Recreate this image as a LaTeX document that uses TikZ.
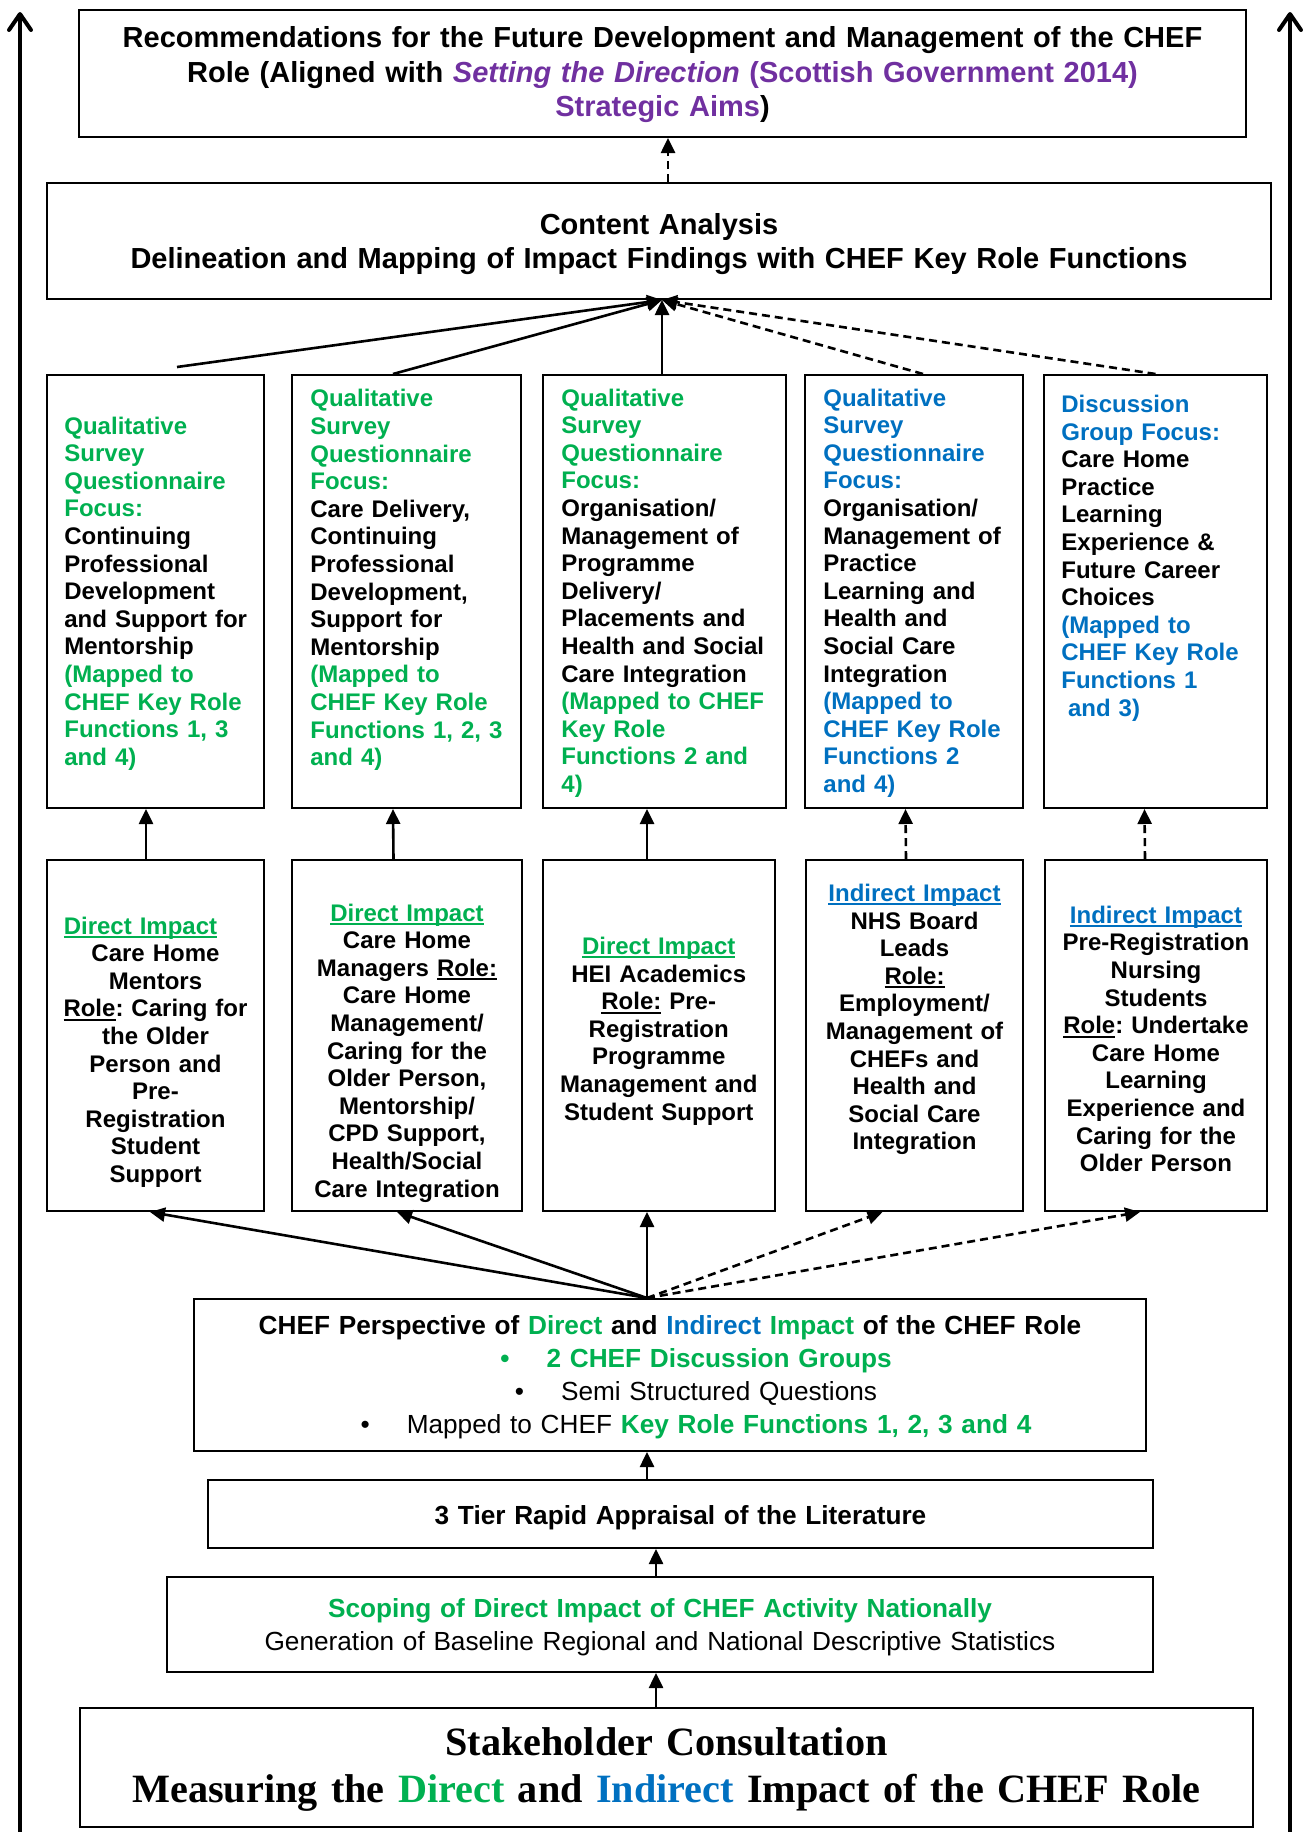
\documentclass[tikz,border=0pt]{standalone}
\usepackage{fontspec}
\setmainfont{Liberation Sans}
\newfontfamily\stakefont{Liberation Serif}
\usetikzlibrary{arrows.meta,fit}
\definecolor{chefgreen}{HTML}{00B050}
\definecolor{chefblue}{HTML}{0070C0}
\definecolor{chefpurple}{HTML}{7030A0}
\newcommand{\ulin}[1]{\leavevmode\setbox0\hbox{#1}\rlap{\rule[-2pt]{\wd0}{1pt}}\box0\relax}
\frenchspacing
\tikzset{
  box/.style={draw,line width=1pt,inner sep=0pt},
  ttext/.style={inner sep=0pt,align=center,text width=620pt,font=\bfseries\fontsize{14.5}{17.25}\selectfont},
  qtext/.style={anchor=west,inner sep=0pt,align=left,text width=120pt,font=\bfseries\fontsize{12}{13.8}\selectfont},
  ltext/.style={inner sep=0pt,align=center,text width=140pt,font=\bfseries\fontsize{12}{13.8}\selectfont},
  mtext/.style={inner sep=0pt,align=center,text width=600pt,font=\fontsize{13.1}{16.5}\selectfont},
  ktext/.style={inner sep=0pt,align=center,text width=620pt,font=\stakefont\bfseries\fontsize{20.1}{23.5}\selectfont},
  arr/.style={line width=1.3pt,-{Triangle[length=7.5pt,width=7pt]}},
  darr/.style={arr,dash pattern=on 4pt off 2.5pt},
  side/.style={line width=2pt,-{Straight Barb[length=8pt,width=11pt,round]}}
}
\begin{document}
\begin{tikzpicture}[x=0.5pt,y=-0.5pt]
\useasboundingbox (0,0) rectangle (1303,1832);

\node[box,fit={(79,10) (1246,137)}] (rec) {};
\node[box,fit={(47,183) (1271,299)}] (ca) {};
\node[box,fit={(47,375) (264,808)}] (q1) {};
\node[box,fit={(292,375) (521,808)}] (q2) {};
\node[box,fit={(543,375) (786,808)}] (q3) {};
\node[box,fit={(805,375) (1023,808)}] (q4) {};
\node[box,fit={(1044,375) (1267,808)}] (q5) {};
\node[box,fit={(47,860) (264,1211)}] (l1) {};
\node[box,fit={(292,860) (522,1211)}] (l2) {};
\node[box,fit={(543,860) (775,1211)}] (l3) {};
\node[box,fit={(806,860) (1023,1211)}] (l4) {};
\node[box,fit={(1045,860) (1267,1211)}] (l5) {};
\node[box,fit={(194,1299) (1146,1451)}] (p) {};
\node[box,fit={(208,1480) (1153,1548)}] (t) {};
\node[box,fit={(167,1577) (1153,1672)}] (s) {};
\node[box,fit={(80,1708) (1253,1827)}] (k) {};

\node[ttext] (rect) at (662.5,75) {Recommendations for the Future Development and Management of the CHEF\\Role (Aligned with \color{chefpurple}\textit{Setting the Direction} (Scottish Government 2014)\\Strategic Aims\color{black})};
\node[ttext] (cat) at (659,244) {Content Analysis\\Delineation and Mapping of Impact Findings with CHEF Key Role Functions};

\node[qtext] (q1t) at (64,593.5) {\color{chefgreen}Qualitative\\Survey\\Questionnaire\\Focus:\\\color{black}Continuing\\Professional\\Development\\and Support for\\Mentorship\\\color{chefgreen}(Mapped to\\CHEF Key Role\\Functions 1, 3\\and 4)};
\node[qtext] (q2t) at (310,580) {\color{chefgreen}Qualitative\\Survey\\Questionnaire\\Focus:\\\color{black}Care Delivery,\\Continuing\\Professional\\Development,\\Support for\\Mentorship\\\color{chefgreen}(Mapped to\\CHEF Key Role\\Functions 1, 2, 3\\and 4)};
\node[qtext] (q3t) at (561,593) {\color{chefgreen}Qualitative\\Survey\\Questionnaire\\Focus:\\\color{black}Organisation/\\Management of\\Programme\\Delivery/\\Placements and\\Health and Social\\Care Integration\\\color{chefgreen}(Mapped to CHEF\\Key Role\\Functions 2 and\\4)};
\node[qtext] (q4t) at (823,593) {\color{chefblue}Qualitative\\Survey\\Questionnaire\\Focus:\\\color{black}Organisation/\\Management of\\Practice\\Learning and\\Health and\\Social Care\\Integration\\\color{chefblue}(Mapped to\\CHEF Key Role\\Functions 2\\and 4)};
\node[qtext] (q5t) at (1061,558) {\color{chefblue}Discussion\\Group Focus:\\\color{black}Care Home\\Practice\\Learning\\Experience \&\\Future Career\\Choices\\\color{chefblue}(Mapped to\\CHEF Key Role\\Functions 1\\\hspace*{3.3pt}and 3)};

\node[ltext] (l1t) at (155.5,1052) {{\color{chefgreen}\ulin{Direct Impact}}\mbox{\hspace{15pt}}\\Care Home\\Mentors\\\ulin{Role}: Caring for\\the Older\\Person and\\Pre-\\Registration\\Student\\Support};
\node[ltext] (l2t) at (407,1053) {{\color{chefgreen}\ulin{Direct Impact}}\\Care Home\\Managers \ulin{Role:}\\Care Home\\Management/\\Caring for the\\Older Person,\\Mentorship/\\CPD Support,\\Health/Social\\Care Integration};
\node[ltext] (l3t) at (658.75,1031) {{\color{chefgreen}\ulin{Direct Impact}}\\HEI Academics\\\ulin{Role:} Pre-\\Registration\\Programme\\Management and\\Student Support};
\node[ltext] (l4t) at (914.5,1019.5) {{\color{chefblue}\ulin{Indirect Impact}}\\NHS Board\\Leads\\\ulin{Role:}\\Employment/\\Management of\\CHEFs and\\Health and\\Social Care\\Integration};
\node[ltext] (l5t) at (1156,1039) {{\color{chefblue}\ulin{Indirect Impact}}\\Pre-Registration\\Nursing\\Students\\\ulin{Role}: Undertake\\Care Home\\Learning\\Experience and\\Caring for the\\Older Person};

\node[mtext] (pt) at (670,1377.5) {\bfseries CHEF Perspective of {\color{chefgreen}Direct} and {\color{chefblue}Indirect} {\color{chefgreen}Impact} of the CHEF Role\\\hspace*{26pt}\color{chefgreen}\textbullet\hspace{18.5pt}2 CHEF Discussion Groups\\\color{black}\mdseries\hspace*{26pt}\textbullet\hspace{18.5pt}Semi Structured Questions\\\hspace*{26pt}\textbullet\hspace{18.5pt}Mapped to CHEF {\color{chefgreen}\bfseries Key Role Functions 1, 2, 3 and 4}};
\node[mtext,font=\bfseries\fontsize{13.1}{16.5}\selectfont] (tt) at (680.5,1517.5) {3 Tier Rapid Appraisal of the Literature};
\node[mtext] (st) at (660,1627) {\color{chefgreen}\bfseries Scoping of Direct Impact of CHEF Activity Nationally\\\color{black}\mdseries Generation of Baseline Regional and National Descriptive Statistics};
\node[ktext] (kt) at (666.5,1769) {Stakeholder Consultation\\Measuring the {\color{chefgreen}Direct} and {\color{chefblue}Indirect} Impact of the CHEF Role};

\coordinate (top) at ([xshift=1.5pt]ca.south);
\coordinate (hub) at ([xshift=-11.5pt]p.north);
\coordinate (cx) at ([xshift=4.5pt]ca.north);
\coordinate (sx) at ([xshift=-2pt]s.north);
\draw[darr] (cx) -- (cx |- rec.south);
\draw[arr] ([shift={(10.75pt,3.5pt)}]q1.north) -- (top);
\draw[arr] ([xshift=-6.75pt]q2.north) -- (top);
\draw[arr] (q3.north -| top) -- (top);
\draw[darr] ([xshift=4.5pt]q4.north) -- (top);
\draw[darr] (q5.north) -- (top);

\draw[arr] ([xshift=-4.75pt]l1.north) -- ([xshift=-4.75pt]q1.south);
\draw[arr] ([xshift=-6.75pt]l2.north) -- ([xshift=-6.75pt]q2.south);
\draw[arr] (l3.north -| hub) -- (q3.south -| hub);
\draw[darr] ([xshift=-4.25pt]l4.north) -- ([xshift=-4.25pt]q4.south);
\draw[darr] ([xshift=-5.5pt]l5.north) -- ([xshift=-5.5pt]q5.south);

\draw[arr] (hub) -- ([xshift=-2.75pt]l1.south);
\draw[arr] (hub) -- ([xshift=-5pt]l2.south);
\draw[arr] (hub) -- (l3.south -| hub);
\draw[darr] (hub) -- ([xshift=-16pt]l4.south);
\draw[darr] (hub) -- ([xshift=-8pt]l5.south);

\draw[arr] (t.north -| hub) -- (p.south -| hub);
\draw[arr] (sx) -- (sx |- t.south);
\draw[arr] (k.north -| sx) -- (s.south -| sx);

\coordinate (lbot) at (20,1832);
\coordinate (ltop) at (20,12);
\coordinate (rbot) at (1290,1832);
\coordinate (rtop) at (1290,12);
\draw[side] (lbot) -- (ltop);
\draw[side] (rbot) -- (rtop);
\end{tikzpicture}
\end{document}
